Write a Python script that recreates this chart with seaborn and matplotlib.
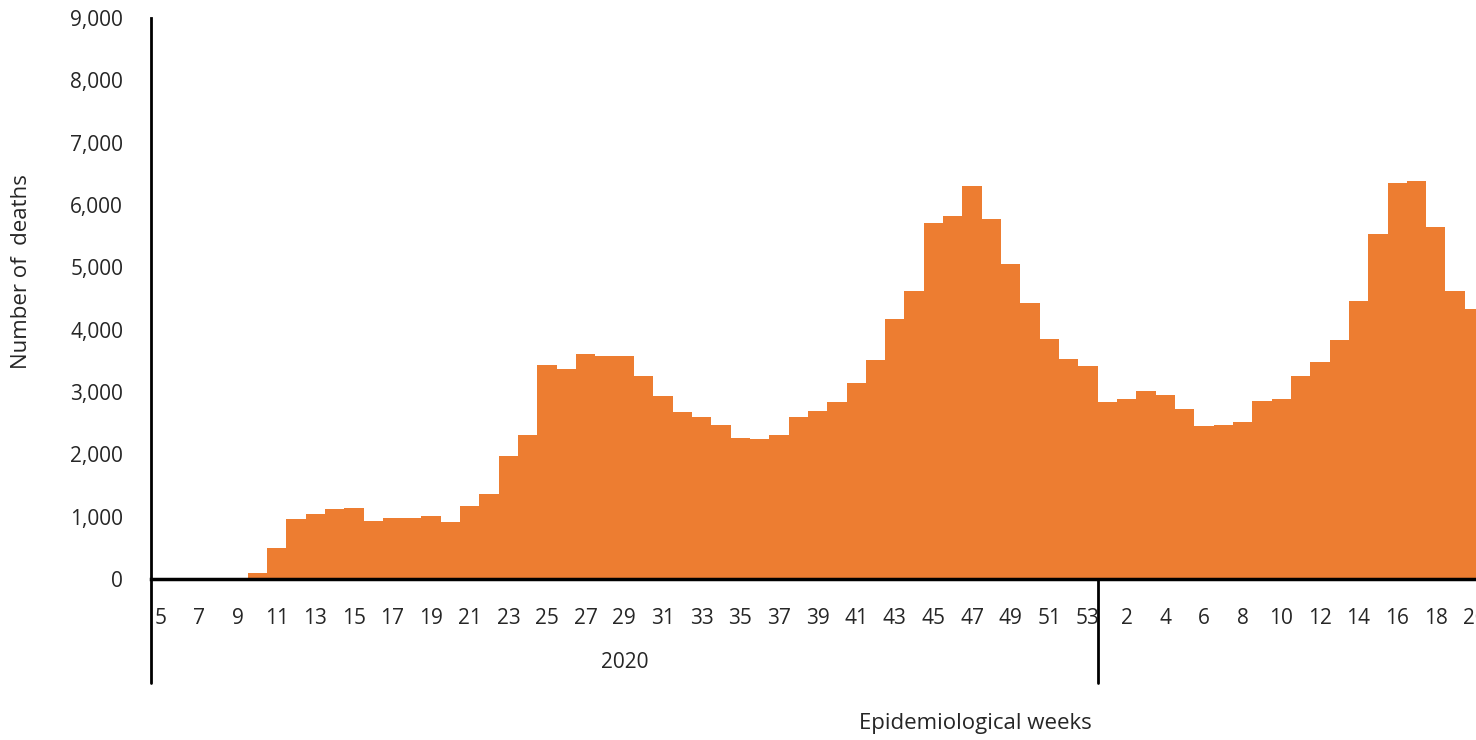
import matplotlib
matplotlib.use("Agg")
import matplotlib.pyplot as plt
import matplotlib.transforms as mtransforms
import seaborn as sns
import pandas as pd
from matplotlib.ticker import FuncFormatter

# ---- data ----
weeks_2020 = list(range(5, 54))
deaths_2020 = [0, 0, 0, 0, 0, 95, 490, 960, 1048, 1118, 1144, 934, 978, 980, 1004,
               915, 1169, 1360, 1970, 2313, 3431, 3367, 3615, 3571, 3571, 3253,
               2935, 2681, 2605, 2471, 2268, 2249, 2306, 2605, 2700, 2840, 3145,
               3507, 4174, 4625, 5718, 5820, 6302, 5769, 5057, 4422, 3850, 3526, 3412]
weeks_2021 = list(range(1, 21))
deaths_2021 = [2840, 2884, 3018, 2954, 2732, 2452, 2471, 2522, 2859, 2884, 3253,
               3488, 3831, 4466, 5540, 6347, 6385, 5654, 4625, 4333]
year_labels = ["2020", "2021"]
y_ticks = [0, 1000, 2000, 3000, 4000, 5000, 6000, 7000, 8000, 9000]

keys = [f"2020-{w}" for w in weeks_2020] + [f"2021-{w}" for w in weeks_2021]
week_nums = weeks_2020 + weeks_2021
df = pd.DataFrame({"key": keys, "deaths": deaths_2020 + deaths_2021})

sns.set_theme(style="white")
plt.rcParams["font.family"] = ["Open Sans", "DejaVu Sans"]
text_color = "#262626"

fig = plt.figure(figsize=(14.76, 7.4), dpi=100)
W, H = 1476, 740
ax_left, ax_top, ax_bottom = 151, 18, 579
ax = fig.add_axes([ax_left / W, (H - ax_bottom) / H, 1 - ax_left / W, (ax_bottom - ax_top) / H])

sns.barplot(data=df, x="key", y="deaths", order=keys, color="#ED7D31",
            saturation=1, width=1.0, linewidth=0, ax=ax)

n2020 = len(weeks_2020)
ax.set_xlim(-0.5, 68.08)
ax.set_ylim(0, 9000)
ax.set_yticks(y_ticks)
ax.yaxis.set_major_formatter(FuncFormatter(lambda v, p: f"{int(v):,}"))
tick_pos = list(range(0, len(keys), 2))
ax.set_xticks(tick_pos)
ax.set_xticklabels([str(week_nums[i]) for i in tick_pos])
ax.tick_params(axis="x", length=0, pad=21, labelsize=15, labelcolor=text_color)
ax.tick_params(axis="y", length=0, pad=20, labelsize=15, labelcolor=text_color)
ax.set_xlabel("")
ax.set_ylabel("")

for s in ["top", "right"]:
    ax.spines[s].set_visible(False)
ax.spines["left"].set_color("black")
ax.spines["left"].set_linewidth(2)
ax.spines["bottom"].set_color("black")
ax.spines["bottom"].set_linewidth(2.5)
ax.spines["bottom"].set_zorder(5)

# group separators below the axis
trans = mtransforms.blended_transform_factory(ax.transData, ax.transAxes)
ext = -(683 - 579) / (ax_bottom - ax_top)
for xpos in [-0.5, n2020 - 0.5]:
    ax.plot([xpos, xpos], [ext, 0], transform=trans, color="black", lw=2, clip_on=False)
ax.text((n2020 - 1) / 2, -(662 - 579) / (ax_bottom - ax_top), year_labels[0],
        transform=trans, ha="center", va="center", fontsize=15, color=text_color)

fig.text(975 / W, 1 - 724 / H, "Epidemiological weeks", ha="center", va="center",
         fontsize=16, color=text_color)
fig.text(22 / W, 1 - 272 / H, "Number of  deaths", ha="center", va="center",
         rotation=90, fontsize=16, color=text_color)

fig.savefig("out.png", dpi=100, facecolor="white")
